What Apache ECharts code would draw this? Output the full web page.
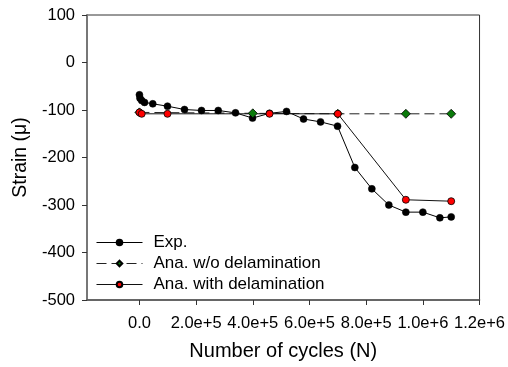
<!DOCTYPE html>
<html>
<head>
<meta charset="utf-8">
<script src="https://cdn.jsdelivr.net/npm/echarts@6/dist/echarts.min.js"></script>
<style>
  html, body { margin: 0; padding: 0; background: #fff; }
  #chart { width: 508px; height: 367px; }
</style>
</head>
<body>
<div id="chart"></div>
<script>
  // 数据
  var expX = [0, 2000, 8000, 18000, 47000, 99000, 159000, 219000, 278000, 339000, 399000, 459000, 519000, 579000, 639000, 699000, 760000, 820000, 880000, 940000, 1000000, 1060000, 1100000];
  var expY = [-68, -75, -80, -84, -87, -92, -99, -101, -101, -106, -117, -107, -103, -119, -125, -134, -221, -266, -300, -315, -315, -327, -325];

  var noDelamX = [0, 400000, 700000, 940000, 1100000];
  var noDelamY = [-105, -107, -108, -108, -108];

  var withDelamX = [0, 8000, 99000, 459000, 700000, 940000, 1100000];
  var withDelamY = [-105, -108, -108, -108, -108, -289, -292];

  var xTicks = [0, 200000, 400000, 600000, 800000, 1000000, 1200000];
  var seriesNames = ['Exp.', 'Ana. w/o delamination', 'Ana. with delamination'];

  function pairs(xs, ys) {
    return xs.map(function (x, i) { return [x, ys[i]]; });
  }

  var font = 'Liberation Sans, Arial, sans-serif';
  var myChart = echarts.init(document.getElementById('chart'));

  var option = {
    backgroundColor: '#fff',
    animation: false,
    textStyle: { fontFamily: font },
    grid: {
      left: 87, right: 28, top: 15, bottom: 67,
      show: true, borderColor: '#333', borderWidth: 1, backgroundColor: 'transparent'
    },
    legend: {
      orient: 'vertical',
      left: 96,
      top: 234,
      padding: 0,
      itemWidth: 46,
      itemHeight: 7,
      itemGap: 4,
      data: seriesNames,
      lineStyle: { width: 1 },
      textStyle: { fontSize: 17, color: '#000', fontFamily: font, padding: [0, 0, 0, 6] }
    },
    xAxis: {
      type: 'value',
      min: -185000,
      max: 1200000,
      name: 'Number of cycles (N)',
      nameLocation: 'middle',
      nameGap: 41,
      nameTextStyle: { fontSize: 20, color: '#000', fontFamily: font },
      splitLine: { show: false },
      axisLine: { onZero: false, lineStyle: { color: '#555', width: 1.5 } },
      axisTick: { show: true, inside: false, length: 5, customValues: xTicks, lineStyle: { color: '#333' } },
      axisLabel: {
        customValues: xTicks,
        margin: 15,
        fontSize: 16.5,
        color: '#000',
        fontFamily: font,
        formatter: function (v) {
          return v === 0 ? '0.0' : v.toExponential(1);
        }
      }
    },
    yAxis: {
      type: 'value',
      min: -500,
      max: 100,
      interval: 100,
      name: 'Strain (\u03bc)',
      nameLocation: 'middle',
      nameGap: 56,
      nameTextStyle: { fontSize: 19.5, color: '#000', fontFamily: font },
      splitLine: { show: false },
      axisLine: { onZero: false, lineStyle: { color: '#777', width: 2 } },
      axisTick: { show: true, inside: false, length: 5, lineStyle: { color: '#333' } },
      axisLabel: { margin: 12, fontSize: 16.5, color: '#000', fontFamily: font }
    },
    series: [
      {
        name: seriesNames[0],
        type: 'line',
        data: pairs(expX, expY),
        symbol: 'circle',
        symbolSize: 7,
        lineStyle: { color: '#000', width: 1 },
        itemStyle: { color: '#000', borderColor: '#000', borderWidth: 0.5 }
      },
      {
        name: seriesNames[1],
        type: 'line',
        data: pairs(noDelamX, noDelamY),
        symbol: 'diamond',
        symbolSize: 9,
        lineStyle: { color: '#222', width: 1, type: [10, 5] },
        itemStyle: { color: '#0a7a0a', borderColor: '#000', borderWidth: 0.8 }
      },
      {
        name: seriesNames[2],
        type: 'line',
        data: pairs(withDelamX, withDelamY),
        symbol: 'circle',
        symbolSize: 7,
        lineStyle: { color: '#111', width: 1 },
        itemStyle: { color: '#ff0000', borderColor: '#000', borderWidth: 0.8 }
      }
    ]
  };

  myChart.setOption(option);
  window.addEventListener('resize', function () { myChart.resize() });
</script>
</body>
</html>
